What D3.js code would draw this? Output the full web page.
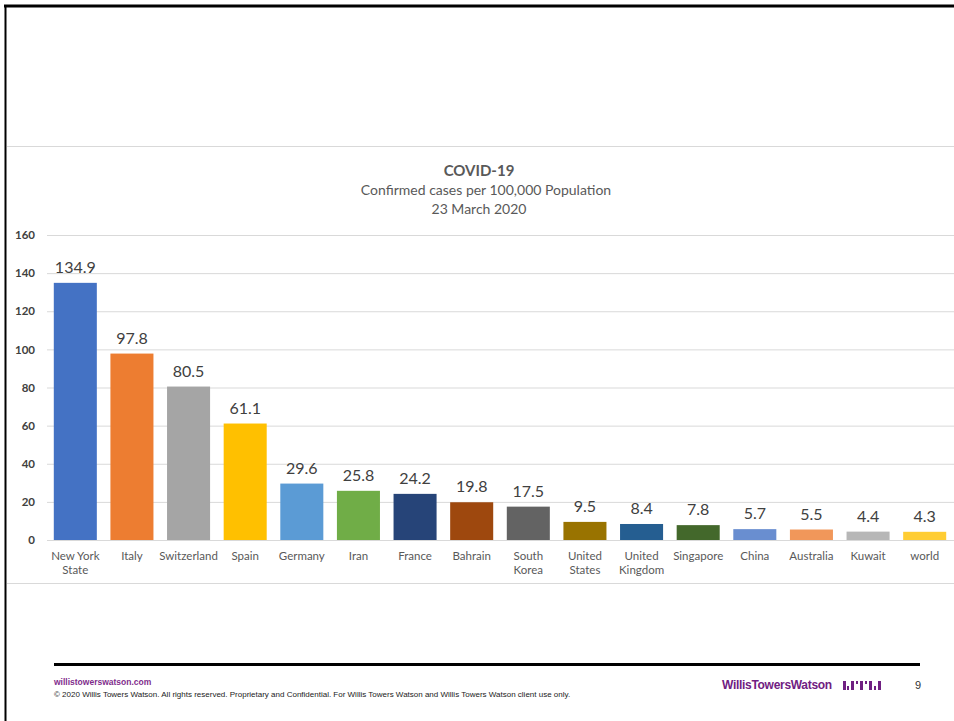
<!DOCTYPE html>
<html>
<head>
<meta charset="utf-8">
<script src="https://cdn.jsdelivr.net/npm/d3@7"></script>
<style>
  body { margin: 0; background: white; }
  svg text { font-family: Lato, "Open Sans", sans-serif; }
</style>
</head>
<body>
<div id="chart"></div>
<script>
// Data
const countries = ['New York|State', 'Italy', 'Switzerland', 'Spain', 'Germany', 'Iran', 'France', 'Bahrain',
                   'South|Korea', 'United|States', 'United|Kingdom', 'Singapore', 'China', 'Australia', 'Kuwait', 'world'];
const cases = [134.9, 97.8, 80.5, 61.1, 29.6, 25.8, 24.2, 19.8, 17.5, 9.5, 8.4, 7.8, 5.7, 5.5, 4.4, 4.3];
const barColors = ['#4472C4', '#ED7D31', '#A5A5A5', '#FFC000', '#5B9BD5', '#70AD47', '#264478', '#9E480E',
                   '#636363', '#997300', '#255E91', '#43682B', '#698ED0', '#F1975A', '#B7B7B7', '#FFCD33'];
const yTicks = [0, 20, 40, 60, 80, 100, 120, 140, 160];

let width = 954,
    height = 721;

let margin = { top: 235, bottom: 181, left: 47, right: 1 };

let svg = d3.select('#chart')
            .append('svg')
            .attr('width', width)
            .attr('height', height)
            .style('background', 'white');

// slide frame
svg.append('line').attr('x1', 4).attr('x2', width).attr('y1', 6).attr('y2', 6)
    .attr('stroke', 'black').attr('stroke-width', 3);
svg.append('line').attr('x1', 5.5).attr('x2', 5.5).attr('y1', 5).attr('y2', height)
    .attr('stroke', 'black').attr('stroke-width', 2);

// chart picture borders
svg.append('line').attr('x1', 7).attr('x2', width).attr('y1', 146.5).attr('y2', 146.5)
    .attr('stroke', '#d9d9d9').attr('stroke-width', 1);
svg.append('line').attr('x1', 7).attr('x2', width).attr('y1', 583.5).attr('y2', 583.5)
    .attr('stroke', '#d9d9d9').attr('stroke-width', 1);

// Scales
let yScale = d3.scaleLinear()
               .domain([0, 160])
               .range([height - margin.bottom, margin.top]);

let xScale = d3.scaleBand()
               .domain(countries)
               .range([margin.left, width - margin.right])
               .paddingInner(0.24)
               .paddingOuter(0.12);

// Gridlines + y axis
let yAxis = svg.append('g')
               .attr('transform', `translate(${margin.left}, 0)`)
               .call(d3.axisLeft(yScale).tickValues(yTicks).tickSize(-(width - margin.left)).tickPadding(12));
yAxis.select('.domain').remove();
yAxis.selectAll('.tick line').attr('stroke', '#d9d9d9');
yAxis.selectAll('.tick text')
     .attr('fill', '#404040')
     .style('font-size', '11.5px')
     .style('font-weight', 'bold');

// Bars
svg.selectAll('.bar')
   .data(countries)
   .enter()
   .append('rect')
   .attr('class', 'bar')
   .attr('x', d => xScale(d))
   .attr('y', (d, i) => yScale(cases[i]))
   .attr('width', xScale.bandwidth())
   .attr('height', (d, i) => yScale(0) - yScale(cases[i]))
   .attr('fill', (d, i) => barColors[i]);

// Value labels
svg.selectAll('.value')
   .data(countries)
   .enter()
   .append('text')
   .attr('class', 'value')
   .attr('x', d => xScale(d) + xScale.bandwidth() / 2)
   .attr('y', (d, i) => yScale(cases[i]) - 10)
   .attr('text-anchor', 'middle')
   .attr('fill', '#404040')
   .style('font-size', '16px')
   .text((d, i) => cases[i].toFixed(1));

// Category labels (two lines where needed)
let catLabels = svg.selectAll('.cat')
   .data(countries)
   .enter()
   .append('text')
   .attr('class', 'cat')
   .attr('x', d => xScale(d) + xScale.bandwidth() / 2)
   .attr('y', 560)
   .attr('text-anchor', 'middle')
   .attr('fill', '#595959')
   .style('font-size', '11.5px');
catLabels.each(function(d) {
    d.split('|').forEach((part, j) => {
        d3.select(this).append('tspan')
          .attr('x', xScale(d) + xScale.bandwidth() / 2)
          .attr('dy', j === 0 ? 0 : 14)
          .text(part);
    });
});

// Titles
svg.append('text')
   .attr('x', 479).attr('y', 176)
   .attr('text-anchor', 'middle')
   .attr('fill', '#595959')
   .style('font-size', '15px')
   .style('font-weight', 'bold')
   .text('COVID-19');
svg.append('text')
   .attr('x', 486).attr('y', 195)
   .attr('text-anchor', 'middle')
   .attr('fill', '#595959')
   .style('font-size', '14px')
   .text('Confirmed cases per 100,000 Population');
svg.append('text')
   .attr('x', 479).attr('y', 214)
   .attr('text-anchor', 'middle')
   .attr('fill', '#595959')
   .style('font-size', '14px')
   .text('23 March 2020');

// Footer
svg.append('line').attr('x1', 54).attr('x2', 920).attr('y1', 664.5).attr('y2', 664.5)
    .attr('stroke', 'black').attr('stroke-width', 3);
svg.append('text')
   .attr('x', 54).attr('y', 685)
   .attr('fill', '#7F2D8C')
   .style('font-family', '"Liberation Sans", Arial, sans-serif')
   .style('font-size', '8.5px')
   .style('font-weight', 'bold')
   .text('willistowerswatson.com');
svg.append('text')
   .attr('x', 54).attr('y', 697)
   .attr('fill', '#222')
   .style('font-family', '"Liberation Sans", Arial, sans-serif')
   .style('font-size', '8px')
   .text('\u00A9 2020 Willis Towers Watson. All rights reserved. Proprietary and Confidential. For Willis Towers Watson and Willis Towers Watson client use only.');
svg.append('text')
   .attr('x', 722).attr('y', 689)
   .attr('fill', '#702082')
   .style('font-family', '"Liberation Sans", Arial, sans-serif')
   .style('font-size', '12px')
   .style('font-weight', 'bold')
   .style('letter-spacing', '-0.3px')
   .text('WillisTowersWatson');
svg.append('text')
   .attr('x', 915).attr('y', 689)
   .attr('fill', '#333')
   .style('font-family', '"Liberation Sans", Arial, sans-serif')
   .style('font-size', '11px')
   .text('9');

// logo mark: little bars
const logoBars = [[843, 681, 3, 9], [847, 686, 2, 4], [851, 681, 3, 9], [856, 681, 2, 3], [860, 681, 3, 9],
                  [865, 681, 2, 3], [869, 681, 3, 9], [874, 686, 2, 4], [878, 681, 3, 9]];
svg.selectAll('.logo')
   .data(logoBars)
   .enter()
   .append('rect')
   .attr('x', d => d[0]).attr('y', d => d[1])
   .attr('width', d => d[2]).attr('height', d => d[3])
   .attr('fill', '#702082');
</script>
</body>
</html>
